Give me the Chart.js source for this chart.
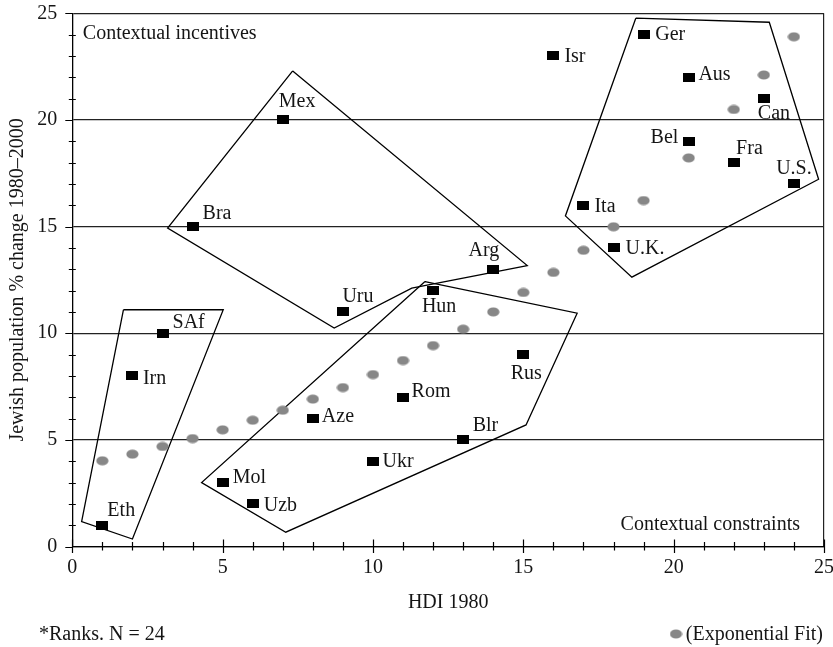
<!DOCTYPE html>
<html>
<head>
<meta charset="utf-8">
<script src="https://cdn.jsdelivr.net/npm/chart.js@4.4.0/dist/chart.umd.min.js"></script>
<style>
  html, body { margin: 0; padding: 0; background: #ffffff; }
  #wrap { width: 833px; height: 647px; }
</style>
</head>
<body>
<div id="wrap"><canvas id="chart" width="833" height="647"></canvas></div>
<script>
// Country ranks: HDI 1980 against Jewish population % change 1980–2000
const countries = ['Eth', 'Irn', 'SAf', 'Bra', 'Mol', 'Uzb', 'Mex', 'Aze', 'Uru', 'Ukr', 'Rom', 'Hun',
                   'Blr', 'Arg', 'Rus', 'Isr', 'Ita', 'U.K.', 'Ger', 'Aus', 'Bel', 'Fra', 'Can', 'U.S.'];
const hdiRank = [1, 2, 3, 4, 5, 6, 7, 8, 9, 10, 11, 12, 13, 14, 15, 16, 17, 18, 19, 20.5, 20.5, 22, 23, 24];
const popChangeRank = [1, 8, 10, 15, 3, 2, 20, 6, 11, 4, 7, 12, 5, 13, 9, 23, 16, 14, 24, 22, 19, 18, 21, 17];

// Exponential fit evaluated at each HDI rank
const fitRank = [1, 2, 3, 4, 5, 6, 7, 8, 9, 10, 11, 12, 13, 14, 15, 16, 17, 18, 19, 20.5, 22, 23, 24];
const fitValue = [4.02, 4.33, 4.69, 5.06, 5.47, 5.92, 6.39, 6.91, 7.45, 8.06, 8.72, 9.42, 10.19,
                  11.0, 11.91, 12.85, 13.89, 14.99, 16.22, 18.22, 20.49, 22.11, 23.9];

// Country groupings, outlined as polygons (vertices in rank units)
const groupLowHdi = [[1.70, 11.10], [5.02, 11.10], [2.00, 0.35], [0.31, 1.17]];
const groupLatin = [[7.33, 22.30], [15.13, 13.17], [11.29, 12.11], [8.71, 10.24], [3.17, 14.93]];
const groupPostSoviet = [[11.73, 12.42], [16.79, 10.94], [15.09, 5.70], [7.10, 0.67], [4.30, 3.00]];
const groupWest = [[18.74, 24.77], [23.18, 24.58], [24.82, 17.22], [18.61, 12.63], [16.40, 15.50]];

// Axis tick labels
const xTickValues = [0, 5, 10, 15, 20, 25];
const yTickValues = [0, 5, 10, 15, 20, 25];

const FONT = 'Liberation Serif';
const INK = '#151515';

// Label placement around each marker: [dx, dy, textAlign]
const labelPlacement = {
  'Eth': [5, -9, 'left'], 'Irn': [10.5, 8, 'left'], 'SAf': [10, -5, 'left'], 'Bra': [10, -8, 'left'],
  'Mol': [10, 0, 'left'], 'Uzb': [11, 7, 'left'], 'Mex': [-4, -13, 'left'], 'Aze': [9, 3, 'left'],
  'Uru': [-0.5, -10, 'left'], 'Ukr': [9.5, 5.5, 'left'], 'Rom': [8.5, 0, 'left'], 'Hun': [6, 21, 'center'],
  'Blr': [9.5, -8.5, 'left'], 'Arg': [6, -13, 'right'], 'Rus': [3, 24, 'center'], 'Isr': [11, 6.3, 'left'],
  'Ita': [11, 6.3, 'left'], 'U.K.': [12, 6.3, 'left'], 'Ger': [11.7, 5, 'left'], 'Aus': [9.7, 3, 'left'],
  'Bel': [-10.3, 1.3, 'right'], 'Fra': [2.3, -8.7, 'left'], 'Can': [-6, 20.7, 'left'], 'U.S.': [0, -9.7, 'center']
};

// Marker sprites
function makeSquare() {
  const c = document.createElement('canvas');
  c.width = 12; c.height = 9;
  const g = c.getContext('2d');
  g.fillStyle = '#000';
  g.fillRect(0, 0, 12, 9);
  return c;
}
function makeDot() {
  const c = document.createElement('canvas');
  c.width = 13; c.height = 10;
  const g = c.getContext('2d');
  g.fillStyle = '#878787';
  g.beginPath();
  g.ellipse(6.5, 5, 6.1, 4.6, 0, 0, Math.PI * 2);
  g.fill();
  return c;
}
const squareSprite = makeSquare();
const dotSprite = makeDot();

function outline(vertices) {
  const pts = vertices.map(v => ({ x: v[0], y: v[1] }));
  pts.push({ x: vertices[0][0], y: vertices[0][1] });
  return {
    data: pts,
    showLine: true,
    borderColor: '#000',
    borderWidth: 1.3,
    pointRadius: 0,
    fill: false,
    tension: 0
  };
}

const annotations = {
  id: 'annotations',
  afterDatasetsDraw(chart) {
    const ctx = chart.ctx;
    const area = chart.chartArea;
    const xs = chart.scales.x, ys = chart.scales.y;
    ctx.save();

    // tick marks: minor every rank, longer at labelled values
    ctx.strokeStyle = '#000';
    ctx.lineWidth = 1.2;
    ctx.beginPath();
    for (let i = 0; i <= 25; i++) {
      const major = i % 5 === 0;
      const px = Math.round(xs.getPixelForValue(i)) + 0.5;
      const up = major ? 7 : 4.5;
      const down = major ? 6.5 : 4;
      ctx.moveTo(px, area.bottom - up);
      ctx.lineTo(px, area.bottom + down);
      const py = Math.round(ys.getPixelForValue(i)) + 0.5;
      if (major) {
        ctx.moveTo(area.left - 7, py);
        ctx.lineTo(area.left, py);
      } else {
        ctx.moveTo(area.left - 3.5, py);
        ctx.lineTo(area.left + 3.5, py);
      }
    }
    ctx.stroke();

    // country labels
    ctx.fillStyle = INK;
    ctx.font = '20px "' + FONT + '"';
    ctx.textBaseline = 'alphabetic';
    const meta = chart.getDatasetMeta(0);
    meta.data.forEach((pt, i) => {
      const name = countries[i];
      const p = labelPlacement[name] || [8, 5, 'left'];
      ctx.textAlign = p[2];
      ctx.fillText(name, pt.x + p[0], pt.y + p[1]);
    });

    // region captions
    ctx.textAlign = 'left';
    ctx.fillText('Contextual incentives', area.left + 10.5, area.top + 26);
    ctx.textAlign = 'right';
    ctx.fillText('Contextual constraints', area.right - 24, area.bottom - 16.5);

    // footnote and fit key
    ctx.textAlign = 'left';
    ctx.fillText('*Ranks. N = 24', 39, 640);
    ctx.textAlign = 'right';
    ctx.fillText('(Exponential Fit)', 823, 640);
    ctx.drawImage(dotSprite, 676 - 6.5, 634 - 5);
    ctx.restore();
  }
};

new Chart(document.getElementById('chart'), {
  type: 'scatter',
  data: {
    datasets: [
      {
        label: 'Countries',
        data: hdiRank.map((x, i) => ({ x: x, y: popChangeRank[i] })),
        pointStyle: squareSprite,
        pointRadius: 6
      },
      {
        label: 'Exponential Fit',
        data: fitRank.map((x, i) => ({ x: x, y: fitValue[i] })),
        pointStyle: dotSprite,
        pointRadius: 6
      },
      outline(groupLowHdi),
      outline(groupLatin),
      outline(groupPostSoviet),
      outline(groupWest)
    ]
  },
  options: {
    responsive: false,
    animation: false,
    devicePixelRatio: 1,
    layout: { padding: { left: 0, right: 9, top: 13.3, bottom: 32 } },
    plugins: { legend: { display: false }, tooltip: { enabled: false } },
    scales: {
      x: {
        type: 'linear',
        min: 0,
        max: 25,
        afterBuildTicks: s => { s.ticks = xTickValues.map(v => ({ value: v })); },
        afterFit: s => { s.height = 68.5; s.paddingLeft = 0; s.paddingRight = 0; },
        grid: {
          drawTicks: false,
          lineWidth: 1.2,
          color: c => (c.tick && c.tick.value === 25) ? '#222' : 'rgba(0,0,0,0)'
        },
        border: { color: '#000', width: 1.3 },
        ticks: {
          padding: 9,
          color: INK,
          autoSkip: false,
          maxRotation: 0,
          font: { family: FONT, size: 20 }
        },
        title: {
          display: true,
          text: 'HDI 1980',
          color: INK,
          padding: 0,
          font: { family: FONT, size: 20 }
        }
      },
      y: {
        type: 'linear',
        min: 0,
        max: 25,
        afterBuildTicks: s => { s.ticks = yTickValues.map(v => ({ value: v })); },
        afterFit: s => { s.width = 72.3; s.paddingTop = 0; s.paddingBottom = 0; },
        grid: {
          drawTicks: false,
          lineWidth: 1.2,
          color: '#222'
        },
        border: { color: '#000', width: 1.3 },
        ticks: {
          padding: 15,
          color: INK,
          autoSkip: false,
          font: { family: FONT, size: 20 }
        },
        title: {
          display: true,
          text: 'Jewish population % change 1980–2000',
          color: INK,
          padding: { top: 5.5, bottom: 0 },
          font: { family: FONT, size: 20 }
        }
      }
    }
  },
  plugins: [annotations]
});
</script>
</body>
</html>
